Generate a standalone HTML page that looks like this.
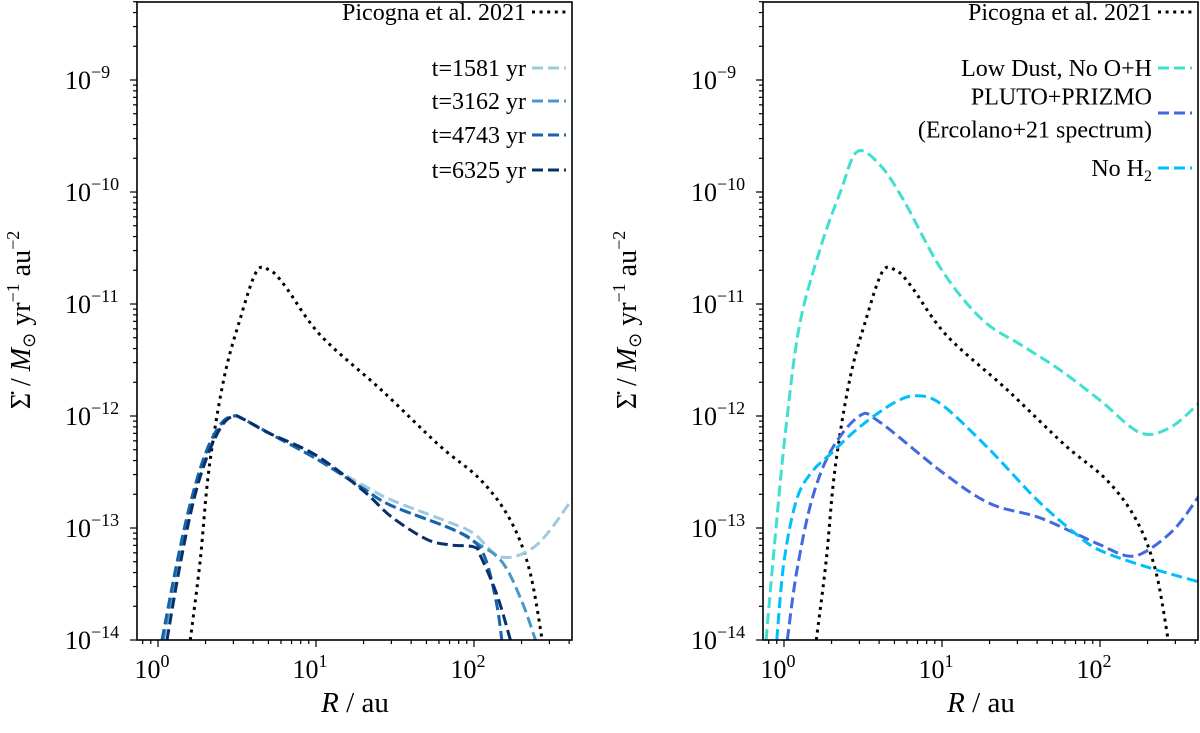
<!DOCTYPE html>
<html><head><meta charset="utf-8"><style>
body{margin:0;background:#fff;}
svg text{font-family:"Liberation Serif",serif;fill:#000;}
</style></head><body>
<svg id="fig" width="1200" height="728" xmlns="http://www.w3.org/2000/svg"></svg>
<script>
// ---- data (R in au, log10 of mass-loss surface density) ----
const picR = [1.6,1.85,2.1,2.6,3.3,4.2,5.1,6.3,10.7,26,60,110,170,225,270];
const picY = [-14,-13.29,-12.48,-11.68,-11.14,-10.71,-10.70,-10.83,-11.28,-11.77,-12.26,-12.57,-12.93,-13.38,-14];
const t1R = [1.08,1.3,1.6,2.0,2.5,3.0,3.5,5,10,20,30,70,100,150,250,420];
const t1Y = [-14,-13.4,-12.8,-12.35,-12.08,-12.0,-12.03,-12.15,-12.38,-12.62,-12.75,-12.95,-13.05,-13.26,-13.15,-12.74];
const t2R = [1.08,1.3,1.6,2.0,2.5,3.0,3.5,5,10,20,30,70,100,150,200,245];
const t2Y = [-14,-13.4,-12.8,-12.35,-12.08,-12.0,-12.03,-12.15,-12.38,-12.65,-12.8,-13.0,-13.12,-13.3,-13.65,-14];
const t3R = [1.06,1.3,1.6,2.0,2.5,3.0,3.5,5,10,20,30,70,100,120,140,150];
const t3Y = [-14,-13.35,-12.78,-12.33,-12.07,-12.0,-12.03,-12.15,-12.38,-12.65,-12.8,-13.0,-13.12,-13.3,-13.7,-14];
const t4R = [1.14,1.35,1.65,2.0,2.5,3.0,3.5,5,10,20,30,50,70,100,110,140,170];
const t4Y = [-14,-13.4,-12.8,-12.4,-12.1,-12.0,-12.03,-12.15,-12.35,-12.67,-12.9,-13.1,-13.15,-13.17,-13.25,-13.6,-14];
const ldR = [0.77,0.89,1.03,1.25,1.7,2.3,2.9,4,5.7,10,18,32,56,100,180,280,420];
const ldY = [-14,-13.0,-12.1,-11.2,-10.5,-9.98,-9.64,-9.75,-10.07,-10.7,-11.14,-11.37,-11.59,-11.86,-12.15,-12.1,-11.89];
const ppR = [1.05,1.2,1.5,2.0,3.0,4.0,10,20,40,70,100,150,200,300,420];
const ppY = [-14,-13.4,-12.75,-12.3,-12.0,-12.05,-12.5,-12.78,-12.9,-13.05,-13.15,-13.25,-13.2,-13.0,-12.72];
const nhR = [0.9,1.0,1.2,1.5,2,3,5,7,10,20,40,70,100,200,420];
const nhY = [-14,-13.3,-12.75,-12.5,-12.33,-12.1,-11.88,-11.82,-11.9,-12.3,-12.75,-13.05,-13.2,-13.35,-13.48];
const xTickLabels = ["0","1","2"];
const yTickLabels = ["-14","-13","-12","-11","-10","-9"];

const NS="http://www.w3.org/2000/svg";
const svg=document.getElementById('fig');
function mk(tag,attrs,parent){const e=document.createElementNS(NS,tag);for(const k in attrs)e.setAttribute(k,attrs[k]);(parent||svg).appendChild(e);return e;}

const yBottom=640, yTop=2, decY=112, decX=158;
function yPix(lv){return yBottom-(lv+14)*decY;}
function makeX(x0){return r=>x0+21+Math.log10(r)*decX;}

function pathFrom(R,Y,xf){
  const p=R.map((r,i)=>[xf(r),yPix(Y[i])]);
  let d=`M${p[0][0].toFixed(1)},${p[0][1].toFixed(1)}`;
  for(let i=0;i<p.length-1;i++){
    const p0=p[Math.max(0,i-1)],p1=p[i],p2=p[i+1],p3=p[Math.min(p.length-1,i+2)];
    const c1=[p1[0]+(p2[0]-p0[0])/6,p1[1]+(p2[1]-p0[1])/6];
    const c2=[p2[0]-(p3[0]-p1[0])/6,p2[1]-(p3[1]-p1[1])/6];
    d+=`C${c1[0].toFixed(1)},${c1[1].toFixed(1)} ${c2[0].toFixed(1)},${c2[1].toFixed(1)} ${p2[0].toFixed(1)},${p2[1].toFixed(1)}`;
  }
  return d;
}

function panel(x0,id,series,legend,ylabX){
  const x1=x0+435;
  const xf=makeX(x0);
  const g=mk('g',{});
  
  
  const cp=mk('clipPath',{id:'clip'+id},g);
  mk('rect',{x:x0,y:yTop,width:x1-x0,height:yBottom-yTop},cp);
  const sg=mk('g',{'clip-path':`url(#clip${id})`},g);
  series.forEach(s=>{
    const p=mk('path',{d:pathFrom(s.R,s.Y,xf),fill:'none',stroke:s.c,'stroke-width':3,'stroke-dasharray':s.dot?'3,4.6':'11,5'},sg);
    
    
  });
  const fr=mk('rect',{x:x0,y:yTop,width:x1-x0,height:yBottom-yTop,fill:'none',stroke:'#000','stroke-width':1.6},g);
  
  
  for(let dec=-1;dec<=2;dec++){
    for(let m=1;m<=9;m++){
      const r=m*Math.pow(10,dec);const x=xf(r);
      if(x<x0-0.5||x>x1+0.5)continue;
      mk('line',{x1:x,x2:x,y1:yBottom,y2:yBottom+(m===1?7:4),stroke:'#000','stroke-width':1.2},g);
    }
  }
  xTickLabels.forEach(lab=>{
    const x=xf(Math.pow(10,+lab));
    const t=mk('text',{x:x-6,y:yBottom+38,'font-size':26,'text-anchor':'middle'},g);
    t.textContent='10';
    const s=mk('tspan',{dy:-11,'font-size':18},t);s.textContent=lab;
    
    
  });
  for(let dec=-14;dec<=-9;dec++){
    for(let m=1;m<=9;m++){
      const y=yPix(dec+Math.log10(m));
      if(y<yTop-0.5)continue;
      mk('line',{x1:x0,x2:x0-(m===1?7:4),y1:y,y2:y,stroke:'#000','stroke-width':1.2},g);
    }
  }
  yTickLabels.forEach(lab=>{
    const y=yPix(+lab);
    const t=mk('text',{x:x0-72,y:y+9,'font-size':26,'text-anchor':'start'},g);
    t.textContent='10';
    const s=mk('tspan',{dy:-11,'font-size':18},t);s.textContent='\u2212'+lab.slice(1);
    
    
  });
  const xl=mk('text',{x:x0+218,y:712,'font-size':29,'text-anchor':'middle'},g);
  xl.innerHTML='<tspan font-style="italic">R</tspan> / au';
  
  
  const yl=mk('text',{x:0,y:0,'font-size':28,'text-anchor':'middle',transform:`translate(${ylabX},320) rotate(-90)`},g);
  yl.innerHTML='Σ\u0307 / <tspan font-style="italic">M</tspan><tspan font-size="18" dy="5">⊙</tspan><tspan dy="-5"> yr</tspan><tspan font-size="18" dy="-11">−1</tspan><tspan dy="11"> au</tspan><tspan font-size="18" dy="-11">−2</tspan>';
  
  
  legend.forEach(l=>{
    const lg=mk('g',{},g);
    
    
    const n=l.lines.length;
    l.lines.forEach((txt,j)=>{
      const t=mk('text',{x:x1-46,y:l.y+8+(j-(n-1)/2)*33,'font-size':24,'text-anchor':'end'},lg);
      t.innerHTML=txt;
    });
    mk('line',{x1:x1-40,x2:x1-6,y1:l.y,y2:l.y,stroke:l.c,'stroke-width':3,'stroke-dasharray':l.dot?'3,4.6':'11,5'},lg);
  });
}

panel(137,'left-panel',[
  {name:'picogna-2021',R:picR,Y:picY,c:'#000',dot:true},
  {name:'t-1581',R:t1R,Y:t1Y,c:'#9ecae1'},
  {name:'t-3162',R:t2R,Y:t2Y,c:'#4a98c9'},
  {name:'t-4743',R:t3R,Y:t3Y,c:'#1764ab'},
  {name:'t-6325',R:t4R,Y:t4Y,c:'#08306b'}
],[
  {y:12,lines:['Picogna et al. 2021'],c:'#000',dot:true},
  {y:68,lines:['t=1581 yr'],c:'#9ecae1'},
  {y:101,lines:['t=3162 yr'],c:'#4a98c9'},
  {y:135,lines:['t=4743 yr'],c:'#1764ab'},
  {y:170,lines:['t=6325 yr'],c:'#08306b'}
],30);

panel(763,'right-panel',[
  {name:'picogna-2021',R:picR,Y:picY,c:'#000',dot:true},
  {name:'low-dust-no-oh',R:ldR,Y:ldY,c:'#40e0d0'},
  {name:'pluto-prizmo',R:ppR,Y:ppY,c:'#4169e1'},
  {name:'no-h2',R:nhR,Y:nhY,c:'#00bfff'}
],[
  {y:12,lines:['Picogna et al. 2021'],c:'#000',dot:true},
  {y:68,lines:['Low Dust, No O+H'],c:'#40e0d0'},
  {y:113,lines:['PLUTO+PRIZMO','(Ercolano+21 spectrum)'],c:'#4169e1'},
  {y:168,lines:['No H<tspan font-size="16" dy="5">2</tspan>'],c:'#00bfff'}
],636);
</script>
</body></html>
